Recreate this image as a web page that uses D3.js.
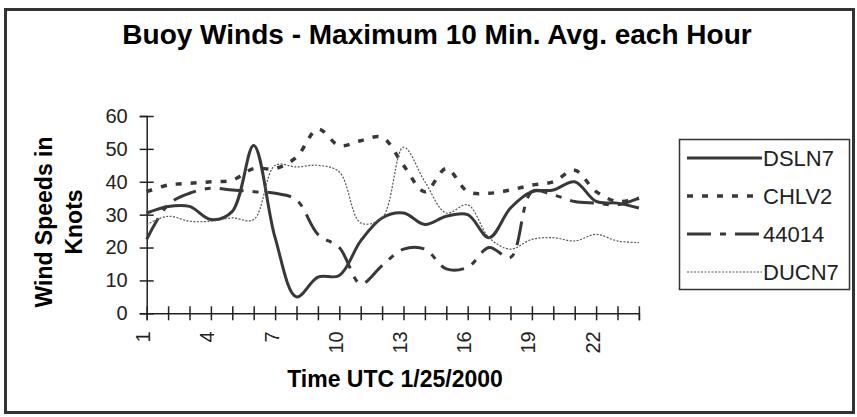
<!DOCTYPE html>
<html>
<head>
<meta charset="utf-8">
<script src="https://cdn.jsdelivr.net/npm/d3@7"></script>
<style>
  body { margin: 0; background: #fff; }
  svg { display: block; font-family: "Liberation Sans", Arial, sans-serif; }
</style>
</head>
<body>
<div id="chart"></div>
<script>
// hours of the day (UTC 1/25/2000)
const hours = [1, 2, 3, 4, 5, 6, 7, 8, 9, 10, 11, 12, 13, 14, 15, 16, 17, 18, 19, 20, 21, 22, 23, 24];
const yTicks = [0, 10, 20, 30, 40, 50, 60];

// wind speeds in knots
const dsln7 = [30.5, 32.5, 32.5, 28.5, 31, 51, 23, 5, 11, 11.5, 22, 29, 30.5, 27, 29.5, 30, 23, 32, 37, 37.5, 40, 34, 33.5, 32];
const chlv2 = [37, 39, 39.5, 40, 40.5, 44, 44, 47.5, 56, 51, 52.5, 53.5, 45, 37, 44, 37, 36.5, 37.5, 39, 40, 43.5, 37, 34, 35];
const b44014 = [22.5, 33, 36.5, 38, 37.5, 37, 36.5, 34.5, 24, 20, 9, 14.5, 19.5, 19.5, 13.5, 14, 20, 17, 37, 36, 34, 33.5, 33, 35];
const ducn7 = [27, 29.5, 28, 28, 29, 28.5, 45, 44.5, 45, 43, 27.5, 29, 50.5, 40, 30.5, 33, 23, 19.5, 22.5, 23, 22, 24, 22, 21.5];

const seriesNames = ["DSLN7", "CHLV2", "44014", "DUCN7"];
const seriesValues = [dsln7, chlv2, b44014, ducn7];

// line styles per series (same order as names)
const styles = [
  { width: 3, dash: null, color: "#383838" },
  { width: 3.5, dash: "6,9", color: "#383838" },
  { width: 3, dash: "24,9,6,9", color: "#383838" },
  { width: 1.2, dash: "2,1.5", color: "#555" }
];

const W = 857, H = 417;
const svg = d3.select("#chart").append("svg")
  .attr("width", W)
  .attr("height", H);

// outer frame
svg.append("rect")
  .attr("x", 5.5).attr("y", 9.5)
  .attr("width", 848).attr("height", 403)
  .attr("fill", "none")
  .attr("stroke", "#333")
  .attr("stroke-width", 3);

// title
svg.append("text")
  .attr("x", 437)
  .attr("y", 44)
  .attr("text-anchor", "middle")
  .attr("font-size", 28)
  .attr("font-weight", "bold")
  .attr("fill", "#000")
  .text("Buoy Winds - Maximum 10 Min. Avg. each Hour");

const x = d3.scalePoint()
  .domain(hours)
  .range([146.7, 638.9]);

const y = d3.scaleLinear()
  .domain([0, 60])
  .range([313.3, 116]);

// y axis
const yAxis = svg.append("g")
  .attr("transform", `translate(${x.range()[0]},0)`)
  .call(d3.axisLeft(y).tickValues(yTicks).tickSize(7).tickPadding(12));
yAxis.select(".domain").attr("stroke", "#222").attr("stroke-width", 1.5);
yAxis.selectAll(".tick line").attr("x1", 7).attr("x2", -7).attr("stroke", "#222").attr("stroke-width", 1.5);
yAxis.selectAll(".tick text")
  .attr("font-size", 20)
  .attr("fill", "#222")
  .attr("font-family", "Liberation Sans, Arial, sans-serif");

// x axis
const xAxis = svg.append("g")
  .attr("transform", `translate(0,${y(0)})`)
  .call(d3.axisBottom(x).tickSize(7).tickFormat(d => (d - 1) % 3 === 0 ? d : ""));
xAxis.select(".domain").attr("stroke", "#222").attr("stroke-width", 1.5);
xAxis.selectAll(".tick line").attr("y1", -7).attr("y2", 7).attr("stroke", "#222").attr("stroke-width", 1.5);
xAxis.selectAll(".tick text")
  .attr("font-size", 20)
  .attr("fill", "#222")
  .attr("font-family", "Liberation Sans, Arial, sans-serif")
  .attr("text-anchor", "end")
  .attr("transform", "translate(-4,18) rotate(-90)")
  .attr("x", 0)
  .attr("y", 0)
  .attr("dy", "0.35em");

// axis titles
svg.append("text")
  .attr("x", 395)
  .attr("y", 387)
  .attr("text-anchor", "middle")
  .attr("font-size", 23)
  .attr("font-weight", "bold")
  .text("Time UTC 1/25/2000");

const yTitle = svg.append("text")
  .attr("transform", "translate(52,222) rotate(-90)")
  .attr("text-anchor", "middle")
  .attr("font-size", 23)
  .attr("font-weight", "bold");
yTitle.append("tspan").attr("x", 0).attr("y", 0).text("Wind Speeds in");
yTitle.append("tspan").attr("x", 0).attr("y", 30).text("Knots");

// series lines (Excel style smoothed)
const line = d3.line()
  .x((d, i) => x(hours[i]))
  .y(d => y(d))
  .curve(d3.curveCatmullRom.alpha(0.5));

const plot = svg.append("g");
seriesValues.forEach((vals, k) => {
  plot.append("path")
    .datum(vals)
    .attr("d", line)
    .attr("fill", "none")
    .attr("stroke", styles[k].color)
    .attr("stroke-width", styles[k].width)
    .attr("stroke-dasharray", styles[k].dash)
    .attr("stroke-linejoin", "round");
});

// legend
const legend = svg.append("g");
legend.append("rect")
  .attr("x", 679.5).attr("y", 139.5)
  .attr("width", 170).attr("height", 150)
  .attr("fill", "#fff")
  .attr("stroke", "#333")
  .attr("stroke-width", 1.5);

seriesNames.forEach((name, k) => {
  const ly = 158 + k * 38;
  legend.append("line")
    .attr("x1", 687).attr("x2", 762)
    .attr("y1", ly).attr("y2", ly)
    .attr("stroke", styles[k].color)
    .attr("stroke-width", styles[k].width)
    .attr("stroke-dasharray", styles[k].dash);
  legend.append("text")
    .attr("x", 763)
    .attr("y", ly)
    .attr("dy", "0.36em")
    .attr("font-size", 22)
    .attr("fill", "#222")
    .text(name);
});
</script>
</body>
</html>
